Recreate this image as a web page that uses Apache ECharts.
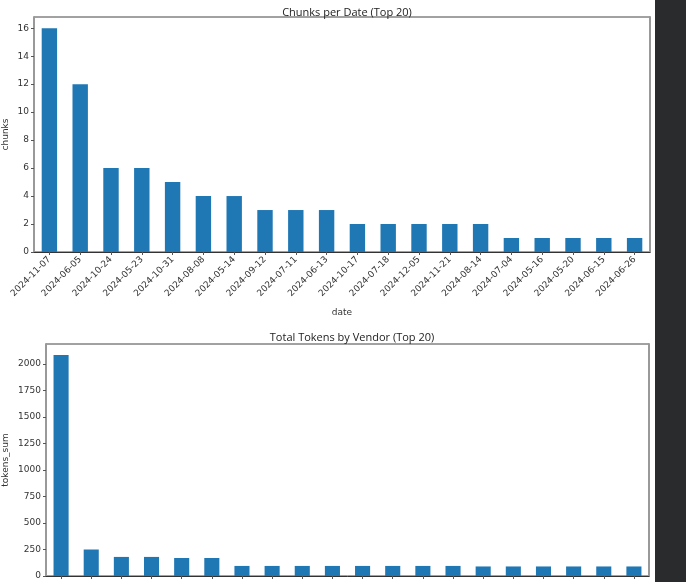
<!DOCTYPE html>
<html>
<head>
<meta charset="utf-8">
<script src="https://cdn.jsdelivr.net/npm/echarts@6/dist/echarts.min.js"></script>
<style>
html,body{margin:0;padding:0;background:#fff;}
#chart{width:686px;height:582px;}
</style>
</head>
<body>
<div id="chart"></div>
<script>
// ---- data ----
const dateCategories = ['2024-11-07','2024-06-05','2024-10-24','2024-05-23','2024-10-31','2024-08-08','2024-05-14','2024-09-12','2024-07-11','2024-06-13','2024-10-17','2024-07-18','2024-12-05','2024-11-21','2024-08-14','2024-07-04','2024-05-16','2024-05-20','2024-06-15','2024-06-26'];
const chunkValues = [16,12,6,6,5,4,4,3,3,3,2,2,2,2,2,1,1,1,1,1];
const chunkTicks = [0,2,4,6,8,10,12,14,16];

const vendorCategories = ['v1','v2','v3','v4','v5','v6','v7','v8','v9','v10','v11','v12','v13','v14','v15','v16','v17','v18','v19','v20'];
const tokenValues = [2085,250,180,180,170,170,95,95,95,95,95,95,95,95,90,90,90,90,90,90];
const tokenTicks = [0,250,500,750,1000,1250,1500,1750,2000];

const FONT = 'DejaVu Sans';
const chart = echarts.init(document.getElementById('chart'), null, {renderer:'canvas'});
const barColor = '#1f77b4';
const labelStyle = {fontFamily: FONT, fontSize: 9, color: '#333', formatter: v => String(v)};

chart.setOption({
  animation: false,
  backgroundColor: '#fff',
  title: [
    {text: 'Chunks per Date (Top 20)', left: 342, top: 2, textAlign: 'center',
     textStyle: {fontFamily: 'Open Sans', fontSize: 11, fontWeight: 'normal', color: '#222'}},
    {text: 'Total Tokens by Vendor (Top 20)', left: 347, top: 327, textAlign: 'center',
     textStyle: {fontFamily: 'Open Sans', fontSize: 11, fontWeight: 'normal', color: '#222'}}
  ],
  grid: [
    {left: 34, top: 17, width: 616, height: 235, show: true, borderColor: '#444', borderWidth: 1, containLabel: false, outerBoundsMode: 'none'},
    {left: 46, top: 344, width: 603, height: 232, show: true, borderColor: '#444', borderWidth: 1, containLabel: false, outerBoundsMode: 'none'}
  ],
  xAxis: [
    {type: 'category', gridIndex: 0, data: dateCategories,
     name: 'date', nameLocation: 'middle', nameGap: 56, nameMoveOverlap: false,
     nameTextStyle: {fontFamily: FONT, fontSize: 9, color: '#333'},
     axisLine: {show: true, lineStyle: {color: '#333', width: 1}},
     axisTick: {show: true, alignWithLabel: true, interval: 0, length: 3, lineStyle: {color: '#555'}},
     axisLabel: {interval: 0, rotate: 45, margin: 6, fontFamily: FONT, fontSize: 9, color: '#333'},
     splitLine: {show: false}},
    {type: 'category', gridIndex: 1, data: vendorCategories,
     axisLine: {show: true, lineStyle: {color: '#333', width: 1}},
     axisTick: {show: true, alignWithLabel: true, interval: 0, length: 3, lineStyle: {color: '#555'}},
     axisLabel: {show: false},
     splitLine: {show: false}}
  ],
  yAxis: [
    {type: 'value', gridIndex: 0, min: 0, max: 16.8,
     name: 'chunks', nameLocation: 'middle', nameGap: 24, nameMoveOverlap: false,
     nameTextStyle: {fontFamily: FONT, fontSize: 9, color: '#333'},
     axisLine: {show: true, lineStyle: {color: '#999', width: 2}},
     axisTick: {show: true, length: 3, customValues: chunkTicks, lineStyle: {color: '#555'}},
     axisLabel: Object.assign({customValues: chunkTicks, margin: 5}, labelStyle),
     splitLine: {show: false}},
    {type: 'value', gridIndex: 0, position: 'right', min: 0, max: 16.8,
     axisLine: {show: true, lineStyle: {color: '#999', width: 2}},
     axisTick: {show: false}, axisLabel: {show: false}, splitLine: {show: false}},
    {type: 'value', gridIndex: 1, min: 0, max: 2189,
     name: 'tokens_sum', nameLocation: 'middle', nameGap: 36, nameMoveOverlap: false,
     nameTextStyle: {fontFamily: FONT, fontSize: 9, color: '#333'},
     axisLine: {show: true, lineStyle: {color: '#999', width: 2}},
     axisTick: {show: true, length: 3, customValues: tokenTicks, lineStyle: {color: '#555'}},
     axisLabel: Object.assign({customValues: tokenTicks, margin: 5}, labelStyle),
     splitLine: {show: false}},
    {type: 'value', gridIndex: 1, position: 'right', min: 0, max: 2189,
     axisLine: {show: true, lineStyle: {color: '#999', width: 2}},
     axisTick: {show: false}, axisLabel: {show: false}, splitLine: {show: false}}
  ],
  graphic: [
    {type: 'rect', left: 655, top: 0, shape: {width: 31, height: 582}, style: {fill: '#2a2b2d'}, z: 100}
  ],
  series: [
    {type: 'bar', xAxisIndex: 0, yAxisIndex: 0, data: chunkValues, barWidth: '50%',
     itemStyle: {color: barColor}},
    {type: 'bar', xAxisIndex: 1, yAxisIndex: 2, data: tokenValues, barWidth: '50%',
     itemStyle: {color: barColor}}
  ]
});
</script>
</body>
</html>
